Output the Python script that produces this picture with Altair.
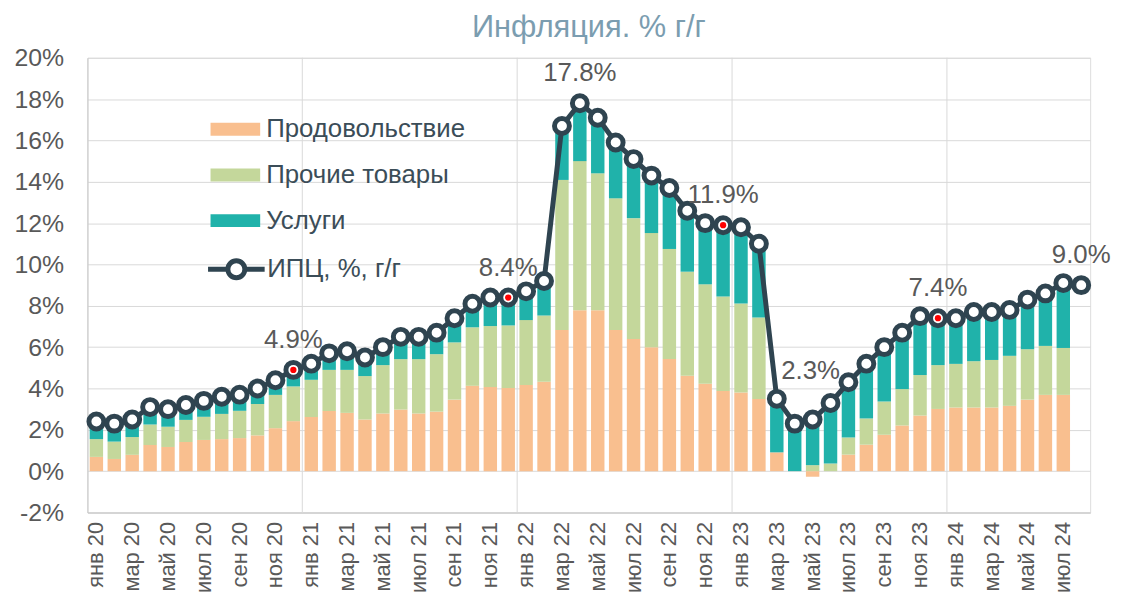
import altair as alt
import pandas as pd

FONT = "Liberation Sans"

m_abbr = ["янв", "фев", "мар", "апр", "май", "июн", "июл", "авг", "сен", "окт", "ноя", "дек"]
months = [f"{m} {y}" for y in ["20", "21", "22", "23", "24"] for m in m_abbr][:56]

cpi = [2.4, 2.3, 2.5, 3.1, 3.0, 3.2, 3.4, 3.6, 3.7, 4.0, 4.4, 4.9,
       5.2, 5.7, 5.8, 5.5, 6.0, 6.5, 6.5, 6.7, 7.4, 8.1, 8.4, 8.4,
       8.7, 9.2, 16.7, 17.8, 17.1, 15.9, 15.1, 14.3, 13.7, 12.6, 12.0, 11.9,
       11.8, 11.0, 3.5, 2.3, 2.5, 3.3, 4.3, 5.2, 6.0, 6.7, 7.5, 7.4,
       7.4, 7.7, 7.7, 7.8, 8.3, 8.6, 9.1, 9.0]

food = [0.69, 0.59, 0.79, 1.27, 1.17, 1.41, 1.51, 1.55, 1.60, 1.73, 2.08, 2.42,
        2.62, 2.91, 2.82, 2.50, 2.79, 2.98, 2.79, 2.88, 3.46, 4.13, 4.07, 4.02,
        4.17, 4.32, 6.83, 7.79, 7.79, 6.83, 6.39, 5.99, 5.43, 4.62, 4.23, 3.88,
        3.80, 3.49, 0.91, 0.0, -0.27, 0.0, 0.80, 1.28, 1.76, 2.21, 2.69, 3.01,
        3.08, 3.08, 3.08, 3.16, 3.46, 3.69, 3.69, None]

other = [0.86, 0.84, 0.86, 0.99, 0.98, 1.07, 1.12, 1.22, 1.32, 1.52, 1.61, 1.68,
         1.80, 1.99, 2.08, 2.10, 2.34, 2.44, 2.63, 2.78, 2.77, 2.83, 2.95, 3.03,
         3.14, 3.21, 7.26, 7.21, 6.62, 6.37, 5.85, 5.53, 5.32, 5.03, 4.81, 4.57,
         4.31, 3.95, 0.0, 0.0, 0.29, 0.37, 0.83, 1.27, 1.61, 1.76, 1.96, 2.12,
         2.11, 2.24, 2.30, 2.42, 2.44, 2.37, 2.27, None]

services = [0.85, 0.87, 0.85, 0.84, 0.85, 0.72, 0.77, 0.83, 0.78, 0.75, 0.71, 0.80,
            0.78, 0.80, 0.90, 0.90, 0.87, 1.08, 1.08, 1.04, 1.17, 1.14, 1.38, 1.35,
            1.39, 1.67, 2.61, 2.80, 2.69, 2.70, 2.86, 2.78, 2.95, 2.95, 2.96, 3.45,
            3.69, 3.56, 2.55, 2.35, 2.34, 2.90, 2.60, 2.55, 2.53, 2.58, 2.70, 2.20,
            2.15, 2.30, 2.25, 2.15, 2.30, 2.45, 2.90, None]

series_names = ["Продовольствие", "Прочие товары", "Услуги"]
series_colors = ["#f9bf8f", "#c4d79b", "#20b2aa"]
cpi_name = "ИПЦ, %, г/г"

year_starts = ["янв 21", "янв 22", "янв 23", "янв 24"]
tick_months = months[::2]
red_months = ["дек 20", "дек 21", "дек 22", "дек 23"]
label_months = ["дек 20", "дек 21", "апр 22", "дек 22", "дек 23", "авг 24"]
shifted_label_months = ["апр 23"]

# ---- tables
rows = []
for i, m in enumerate(months):
    for k, (name, arr) in enumerate(zip(series_names, [food, other, services])):
        if arr[i] is not None:
            rows.append({"month": m, "series": name, "value": arr[i], "order": k})
bars_df = pd.DataFrame(rows)

cpi_df = pd.DataFrame({"month": months, "cpi": cpi, "name": cpi_name})
cpi_df["label"] = [f"{v:.1f}%" for v in cpi]
red_df = cpi_df[cpi_df["month"].isin(red_months)]
lab_df = cpi_df[cpi_df["month"].isin(label_months)]
lab2_df = cpi_df[cpi_df["month"].isin(shifted_label_months)]
rules_df = pd.DataFrame({"month": year_starts})

LINE_COLOR = "#2f4450"
GRID = "#d9d9d9"

x_axis = alt.Axis(values=tick_months, labelAngle=-90, labelFontSize=22, labelColor="#595959",
                  labelFont=FONT, ticks=False, domainColor="#c8c8c8", labelPadding=9,
                  grid=False, title=None)
x_scale = alt.Scale(domain=months, paddingInner=0, paddingOuter=0)
y_scale = alt.Scale(domain=[-2, 20], nice=False, zero=False)
y_axis = alt.Axis(values=list(range(-2, 21, 2)), labelExpr="datum.value + '%'", labelFontSize=25,
                  labelColor="#595959", labelFont=FONT, ticks=False, gridColor=GRID,
                  domainColor="#c8c8c8", labelPadding=24, title=None)

X = alt.X("month:N", sort=months, scale=x_scale, axis=x_axis, title=None)

rules = alt.Chart(rules_df).mark_rule(color=GRID, strokeWidth=1).encode(
    x=alt.X("month:N", sort=months, scale=x_scale, axis=x_axis, title=None, bandPosition=0)
)

bars = alt.Chart(bars_df).mark_bar(width=alt.RelativeBandSize(0.75)).encode(
    x=X,
    y=alt.Y("value:Q", stack="zero", scale=y_scale, axis=y_axis, title=None),
    color=alt.Color("series:N", scale=alt.Scale(domain=series_names, range=series_colors),
                    legend=alt.Legend(orient="none", legendX=124, legendY=47, title=None,
                                      direction="vertical",
                                      symbolType="M-1,-0.26H1V0.26H-1Z", symbolSize=2500,
                                      symbolStrokeWidth=0, symbolOpacity=1,
                                      labelFontSize=26, labelFont=FONT, labelColor="#3b4d58",
                                      labelLimit=500, rowPadding=8, labelOffset=6, padding=0)),
    order=alt.Order("order:Q"),
)

line = alt.Chart(cpi_df).mark_line(strokeWidth=5).encode(
    x=X,
    y=alt.Y("cpi:Q", scale=y_scale, axis=y_axis, title=None),
    stroke=alt.Stroke("name:N", scale=alt.Scale(domain=[cpi_name], range=[LINE_COLOR]),
                      legend=alt.Legend(orient="none", legendX=119, legendY=182, title=None,
                                        symbolType="M-1,0H-0.3M0.3,0A0.3,0.3 0 1,1 -0.3,0A0.3,0.3 0 1,1 0.3,0ZM0.3,0H1",
                                        symbolSize=3249, symbolStrokeWidth=5,
                                        symbolFillColor="white", symbolStrokeColor=LINE_COLOR,
                                        labelFontSize=26, labelFont=FONT, labelColor="#3b4d58",
                                        labelLimit=500, labelOffset=0, padding=0)),
)

points = alt.Chart(cpi_df).mark_point(shape="circle", filled=True, fill="white", stroke=LINE_COLOR,
                                      strokeWidth=5, size=225, opacity=1).encode(
    x=X, y=alt.Y("cpi:Q", scale=y_scale, axis=y_axis, title=None)
)

red = alt.Chart(red_df).mark_point(shape="circle", filled=True, color="#ff0000", size=40,
                                   opacity=1).encode(
    x=X, y=alt.Y("cpi:Q", scale=y_scale, axis=y_axis, title=None)
)

labels = alt.Chart(lab_df).mark_text(fontSize=26, font=FONT, color="#595959", dy=-30,
                                     baseline="middle").encode(
    x=X, y=alt.Y("cpi:Q", scale=y_scale, axis=y_axis, title=None), text="label:N"
)

labels2 = alt.Chart(lab2_df).mark_text(fontSize=26, font=FONT, color="#595959", dx=16, dy=-53,
                                       baseline="middle").encode(
    x=X, y=alt.Y("cpi:Q", scale=y_scale, axis=y_axis, title=None), text="label:N"
)

chart = alt.layer(rules, bars, line, points, red, labels, labels2).resolve_legend(
    color="independent", stroke="independent"
).properties(
    width=1010,
    height=458,
    title=alt.TitleParams("Инфляция. % г/г", fontSize=31, color="#7b9db0", font=FONT,
                          fontWeight="normal", anchor="middle", offset=2),
    autosize=alt.AutoSizeParams(type="none"),
    padding={"left": 80, "top": 48, "right": 24, "bottom": 86},
).configure_view(strokeWidth=0).configure(background="white")

chart.save("out.html", embed_options={"renderer": "svg", "actions": False})
